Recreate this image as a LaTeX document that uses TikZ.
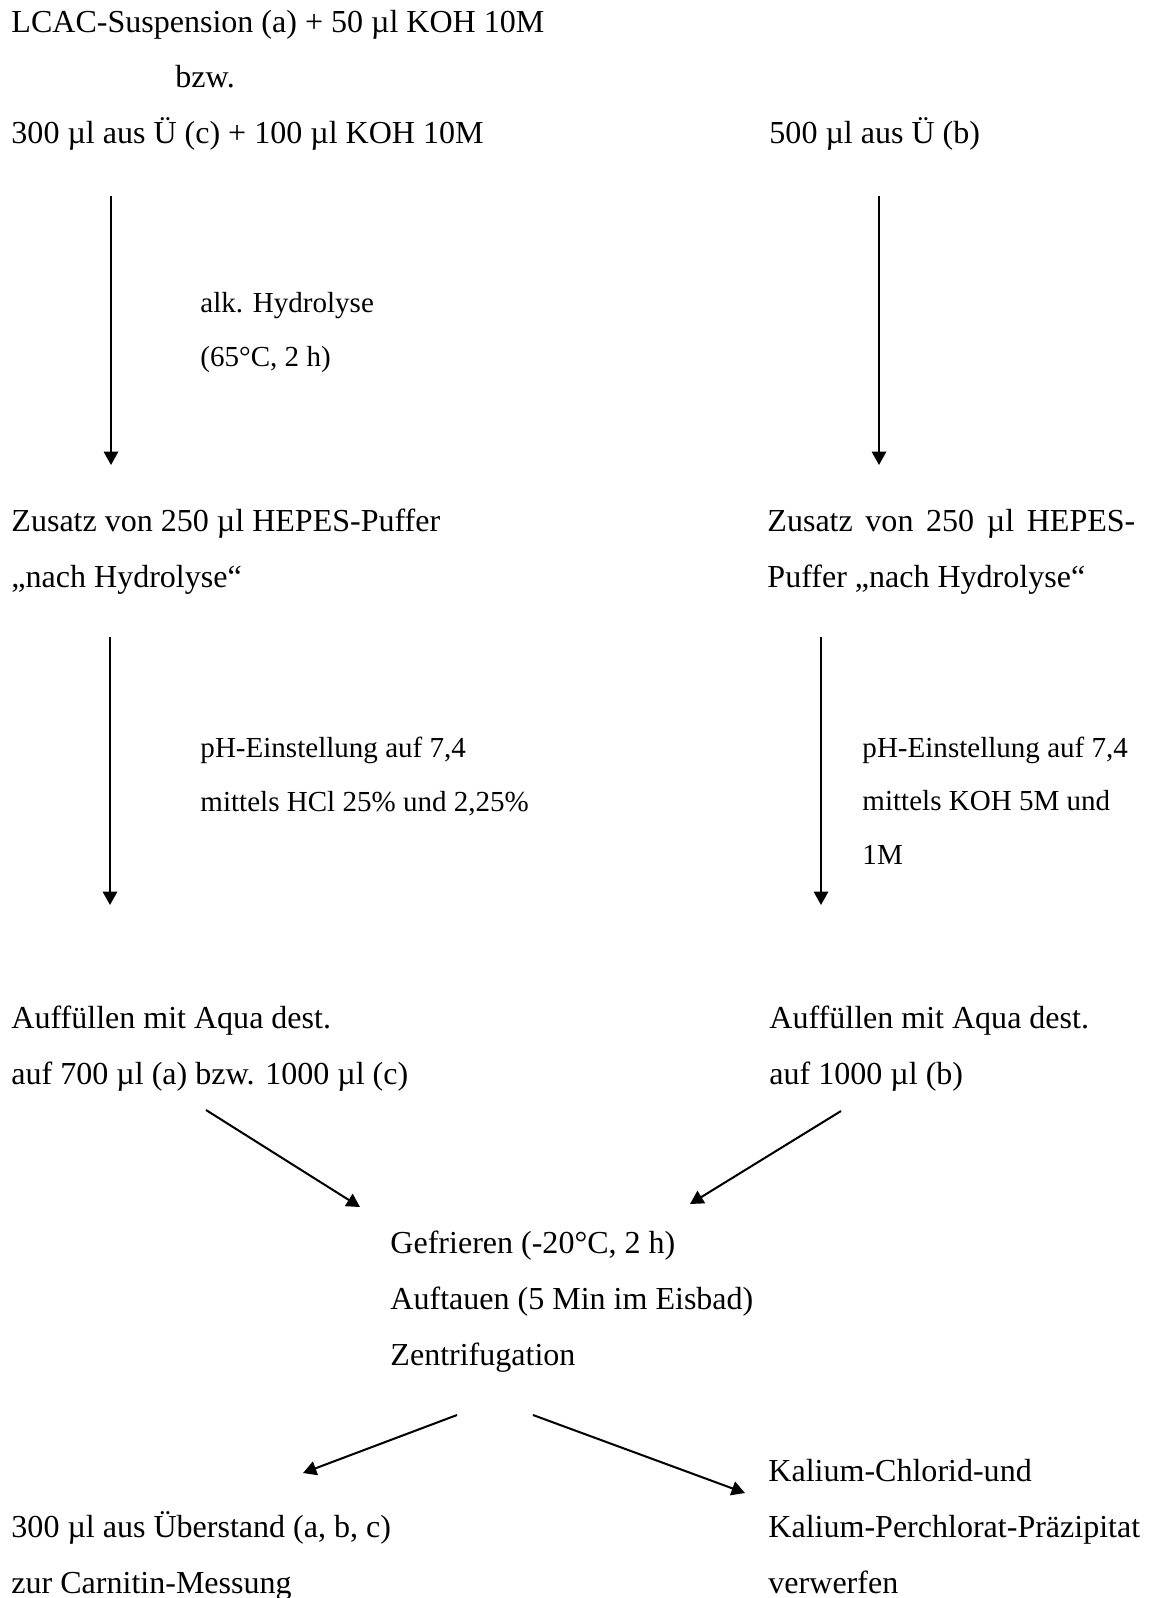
\documentclass[tikz,border=0pt]{standalone}
\usepackage{fontspec}
\setmainfont{Liberation Serif}
\usetikzlibrary{arrows.meta}

\begin{document}
\begin{tikzpicture}[
  x=0.42pt,
  y=-0.42pt,
  >={Triangle[length=5.6pt,width=6pt]},
  stage/.style={
    anchor=base west,
    inner sep=0pt,
    align=left,
    font=\fontsize{13.45}{23.5}\selectfont
  },
  remark/.style={
    stage,
    font=\fontsize{12.2}{22.4}\selectfont
  },
  flow/.style={->,line width=0.85pt}
]
  \useasboundingbox (0,0) rectangle (1155,1598);

  % start samples (multi-line nodes sit on their last baseline)
  \node[stage] (lcac) at (11,32) {LCAC-Suspension (a) + 50 µl KOH 10M};
  \node[stage] (bzw) at (175,87) {bzw.};
  \node[stage] (ueC) at (11,143) {300 µl aus Ü (c) + 100 µl KOH 10M};
  \node[stage] (ueB) at (769,143) {500 µl aus Ü (b)};

  % hydrolysis
  \coordinate (hydL) at (111,196);
  \coordinate (hydLe) at (111,465);
  \coordinate (hydR) at (879,196);
  \coordinate (hydRe) at (879,465);
  \node[remark] (hyd) at (200,366) {alk. Hydrolyse\\(65°C, 2 h)};

  % buffer
  \node[stage] (hepesL) at (11,587) {Zusatz von 250 µl HEPES-Puffer\\„nach Hydrolyse“};
  \node[stage] (hepesR) at (767,587)
    {\makebox[154.5pt][s]{Zusatz von 250 µl HEPES-}\\Puffer „nach Hydrolyse“};

  % pH adjustment
  \coordinate (phL) at (110,637);
  \coordinate (phLe) at (110,905);
  \coordinate (phR) at (821,637);
  \coordinate (phRe) at (821,905);
  \node[remark] (phHCl) at (200,811) {pH-Einstellung auf 7,4\\mittels HCl 25\% und 2,25\%};
  \node[remark] (phKOH) at (862,864) {pH-Einstellung auf 7,4\\mittels KOH 5M und\\1M};

  % volume
  \node[stage] (aquaL) at (11,1084) {Auffüllen mit Aqua dest.\\auf 700 µl (a) bzw. 1000 µl (c)};
  \node[stage] (aquaR) at (769,1084) {Auffüllen mit Aqua dest.\\auf 1000 µl (b)};
  \coordinate (mixL) at (206,1110);
  \coordinate (mixLe) at (360,1207);
  \coordinate (mixR) at (841,1111);
  \coordinate (mixRe) at (690,1204);

  % freeze and spin
  \node[stage] (freeze) at (390,1365)
    {Gefrieren (-20°C, 2 h)\\Auftauen (5 Min im Eisbad)\\Zentrifugation};
  \coordinate (outL) at (457,1415);
  \coordinate (outLe) at (303,1473);
  \coordinate (outR) at (533,1415);
  \coordinate (outRe) at (745,1493);

  % results
  \node[stage] (carn) at (11,1593) {300 µl aus Überstand (a, b, c)\\zur Carnitin-Messung};
  \node[stage] (prec) at (768,1593)
    {Kalium-Chlorid-und\\Kalium-Perchlorat-Präzipitat\\verwerfen};

  \draw[flow] (hydL)--(hydLe);
  \draw[flow] (hydR)--(hydRe);
  \draw[flow] (phL)--(phLe);
  \draw[flow] (phR)--(phRe);
  \draw[flow] (mixL)--(mixLe);
  \draw[flow] (mixR)--(mixRe);
  \draw[flow] (outL)--(outLe);
  \draw[flow] (outR)--(outRe);
\end{tikzpicture}
\end{document}
